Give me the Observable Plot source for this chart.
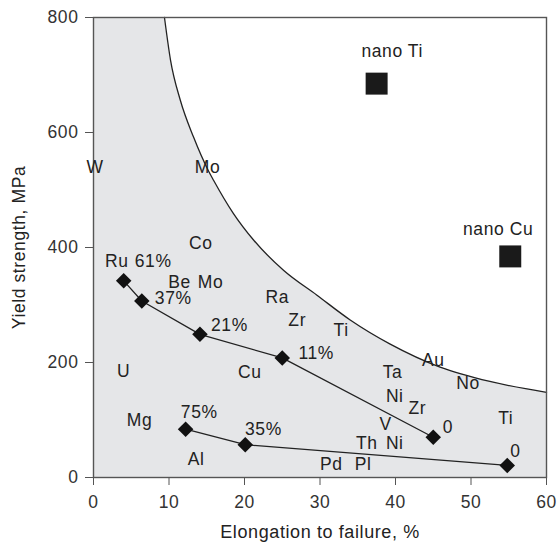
<!DOCTYPE html>
<html>
<head>
<meta charset="utf-8">
<script src="https://cdn.jsdelivr.net/npm/d3@7"></script>
<script src="https://cdn.jsdelivr.net/npm/@observablehq/plot@0.6"></script>
<style>
  html, body { margin: 0; padding: 0; background: #ffffff; }
  #chart svg text { letter-spacing: 0.6px; }
</style>
</head>
<body>
<div id="chart"></div>
<script>
// Boundary curve of the shaded region (elongation %, yield strength MPa)
const curveX = [9.4, 10.2, 11.5, 13.25, 15.2, 15.9, 18.54, 21.2, 25.2, 29.6, 34.0, 39.3, 45.9, 52.5, 60];
const curveY = [800, 726, 656, 592, 534, 517, 459, 413, 360, 317, 274, 232, 192, 167, 148];

// Upper series (diamonds)
const upperX = [4.0, 6.4, 14.1, 25.0, 45.0];
const upperY = [342, 307, 249, 208, 70];
// Lower series (diamonds)
const lowerX = [12.2, 20.1, 54.8];
const lowerY = [84, 57, 21];

// Percent labels
const pctText = ["61%", "37%", "21%", "11%", "0", "75%", "35%", "0"];
const pctX = [7.9, 10.56, 18.0, 29.5, 46.95, 14.0, 22.5, 55.9];
const pctY = [375, 312, 264, 215, 86.6, 113.5, 83, 44.6];

// Element labels
const elemText = ["W", "Mo", "Co", "Ru", "Be", "Mo", "U", "Cu", "Mg", "Al", "Ra", "Zr", "Ti",
                  "Ta", "Au", "No", "Ni", "Zr", "V", "Ti", "Th", "Ni", "Pd", "Pl"];
const elemX = [0.22, 15.1, 14.2, 3.1, 11.4, 15.5, 4.0, 20.7, 6.1, 13.6, 24.35, 26.98, 32.8,
               39.6, 45.0, 49.6, 39.9, 42.9, 38.7, 54.6, 36.2, 39.9, 31.5, 35.7];
const elemY = [540, 540, 407.5, 375, 340, 340, 185, 182, 99, 31, 314, 273.6, 256,
               182, 204, 164.5, 141, 120, 93, 102.6, 58.5, 60, 23, 23];

// Nano materials (squares)
const nanoText = ["nano Ti", "nano Cu"];
const nanoX = [37.5, 55.2];
const nanoY = [685, 384.5];
const nanoLabelX = [39.56, 53.6];
const nanoLabelY = [741.7, 432];

// Axes
const xTicks = [0, 10, 20, 30, 40, 50, 60];
const yTicks = [0, 200, 400, 600, 800];
const xLabel = "Elongation to failure, %";
const yLabel = "Yield strength, MPa";

const curve = curveX.map((x, i) => ({x, y: curveY[i]}));
const upper = upperX.map((x, i) => ({x, y: upperY[i]}));
const lower = lowerX.map((x, i) => ({x, y: lowerY[i]}));
const pct = pctText.map((t, i) => ({t, x: pctX[i], y: pctY[i]}));
const elems = elemText.map((t, i) => ({t, x: elemX[i], y: elemY[i]}));
const nano = nanoText.map((t, i) => ({t, x: nanoX[i], y: nanoY[i], lx: nanoLabelX[i], ly: nanoLabelY[i]}));

const ink = "#222222";
const fillGray = "#e5e6e8";

const chart = Plot.plot({
  width: 558,
  height: 542,
  marginLeft: 93,
  marginRight: 12,
  marginTop: 17,
  marginBottom: 65,
  x: {domain: [0, 60]},
  y: {domain: [0, 800]},
  style: {
    fontFamily: "'Liberation Sans', Arial, Helvetica, sans-serif",
    fontSize: "17.5px",
    color: ink,
    background: "#ffffff",
    overflow: "visible"
  },
  marks: [
    // shaded region: full-height strip left of the curve start, plus area under the curve
    Plot.rect([curve[0]], {x1: 0, x2: "x", y1: 0, y2: "y", fill: fillGray}),
    Plot.areaY(curve, {x: "x", y: "y", fill: fillGray, curve: "monotone-x"}),
    Plot.line(curve, {x: "x", y: "y", stroke: ink, strokeWidth: 1.3, curve: "monotone-x"}),
    Plot.frame({stroke: "#555555", strokeWidth: 1.4}),
    Plot.axisX({ticks: xTicks, tickSize: 8, tickPadding: 10, label: null, stroke: "#555555", fill: "#333333"}),
    Plot.axisY({ticks: yTicks, tickSize: 8, tickPadding: 7, label: null, stroke: "#555555", fill: "#333333"}),
    // series lines + diamonds
    Plot.line(upper, {x: "x", y: "y", stroke: ink, strokeWidth: 1.3}),
    Plot.line(lower, {x: "x", y: "y", stroke: ink, strokeWidth: 1.3}),
    Plot.dot(upper, {x: "x", y: "y", symbol: "diamond2", r: 7, fill: "#111111", stroke: "none"}),
    Plot.dot(lower, {x: "x", y: "y", symbol: "diamond2", r: 7, fill: "#111111", stroke: "none"}),
    // nano squares
    Plot.dot(nano, {x: "x", y: "y", symbol: "square", r: 12.4, fill: "#1a1a1a", stroke: "none"}),
    Plot.text(nano, {x: "lx", y: "ly", text: "t", fill: ink, textAnchor: "middle"}),
    // labels
    Plot.text(elems, {x: "x", y: "y", text: "t", fill: ink, textAnchor: "middle"}),
    Plot.text(pct, {x: "x", y: "y", text: "t", fill: ink, textAnchor: "middle"}),
    // axis titles
    Plot.text([xLabel], {frameAnchor: "bottom", text: d => d, dx: 0, dy: 55, fill: ink, textAnchor: "middle", lineAnchor: "middle", fontSize: 18}),
    Plot.text([yLabel], {frameAnchor: "left", text: d => d, rotate: -90, dx: -74, dy: 0, fill: ink, textAnchor: "middle", lineAnchor: "middle", fontSize: 17.5})
  ]
});

document.getElementById("chart").appendChild(chart);
</script>
</body>
</html>
